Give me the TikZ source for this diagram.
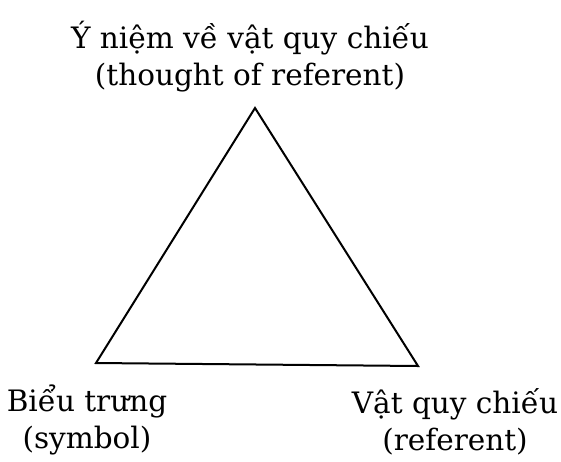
\documentclass[tikz,border=0pt]{standalone}
\usepackage{fontspec}
\setmainfont{DejaVu Serif}
\tikzset{
  edge/.style={draw=black, line width=2pt, line join=miter},
  label/.style={align=center, font=\fontsize{29.5}{37}\selectfont, text=black, inner sep=0pt},
}
\begin{document}
\begin{tikzpicture}[x=1pt,y=-1pt]
\useasboundingbox (0,0) rectangle (561,461);

% vertices
\coordinate (top) at (255,108);
\coordinate (sym) at (96,363);
\coordinate (ref) at (418,366);

% triangle
\draw[edge] (top) -- (sym) -- (ref) -- cycle;

% labels
\node[label] (thought) at (250,57) {Ý niệm về vật quy chiếu\\(thought of referent)};
\node[label] (symbol) at (87,420) {Biểu trưng\\(symbol)};
\node[label] (referent) at (455,422) {Vật quy chiếu\\(referent)};
\end{tikzpicture}
\end{document}
